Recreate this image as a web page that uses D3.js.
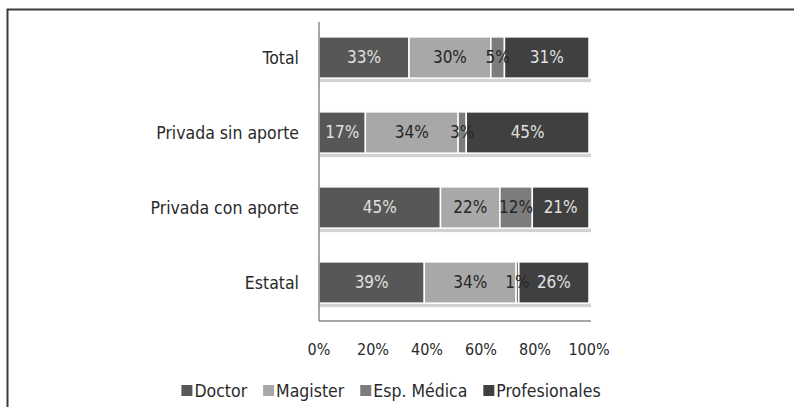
<!DOCTYPE html>
<html>
<head>
<meta charset="utf-8">
<script src="https://cdn.jsdelivr.net/npm/d3@7"></script>
<style>
  body { margin: 0; background: #fff; }
  svg { display: block; }
  text { font-family: "DejaVu Sans Condensed", "Liberation Sans Narrow", sans-serif; }
</style>
</head>
<body>
<div id="chart"></div>
<script>
const categories = ['Total', 'Privada sin aporte', 'Privada con aporte', 'Estatal'];
const seriesNames = ['Doctor', 'Magister', 'Esp. Médica', 'Profesionales'];
const doctor = [33, 17, 45, 39];
const magister = [30, 34, 22, 34];
const espMedica = [5, 3, 12, 1];
const profesionales = [31, 45, 21, 26];
const tickLabels = ['0%', '20%', '40%', '60%', '80%', '100%'];

const colors = ['#575757', '#a8a8a8', '#7c7c7c', '#404040'];
const labelColors = ['#e0e0e0', '#262626', '#262626', '#e0e0e0'];

const W = 794, H = 407;
const svg = d3.select('#chart').append('svg').attr('width', W).attr('height', H);

// frame
svg.append('path').attr('d', `M7.5,${H} V9.5 H${W}`).attr('fill', 'none')
  .attr('stroke', '#3a3a3a').attr('stroke-width', 2);

const x = d3.scaleLinear().domain([0, 1]).range([319, 589]);
const y = d3.scaleBand().domain(categories).range([20, 320]).paddingInner(0.45).paddingOuter(0.225);

// rows: each segment normalised to the row total (100% stacked)
const series = [doctor, magister, espMedica, profesionales];
const rows = categories.map((c, i) => {
  const vals = series.map(s => s[i]);
  const total = d3.sum(vals);
  let acc = 0;
  return vals.map((v, k) => {
    const seg = { cat: c, k, v, x0: acc / total, x1: (acc + v) / total };
    acc += v;
    return seg;
  });
});

// shadow strip under each bar
svg.selectAll('.shadow').data(categories).enter().append('rect')
  .attr('x', x(0)).attr('width', x(1) - x(0) + 2)
  .attr('y', d => y(d) + y.bandwidth()).attr('height', 4)
  .attr('fill', '#d2d2d2');

const g = svg.selectAll('.row').data(rows).enter().append('g');
g.selectAll('rect').data(d => d).enter().append('rect')
  .attr('x', d => x(d.x0)).attr('width', d => x(d.x1) - x(d.x0))
  .attr('y', d => y(d.cat)).attr('height', y.bandwidth())
  .attr('fill', d => colors[d.k]).attr('stroke', '#fff').attr('stroke-width', 1.5);

g.selectAll('text').data(d => d).enter().append('text')
  .attr('x', d => x((d.x0 + d.x1) / 2)).attr('y', d => y(d.cat) + y.bandwidth() / 2)
  .attr('dy', '0.35em').attr('text-anchor', 'middle')
  .attr('font-size', 17).attr('fill', d => labelColors[d.k])
  .text(d => d.v + '%');

// axes
svg.append('line').attr('x1', x(0)).attr('x2', x(0)).attr('y1', 22).attr('y2', 321)
  .attr('stroke', '#8a8a8a').attr('stroke-width', 1.5);
svg.append('line').attr('x1', x(0)).attr('x2', x(1) + 2).attr('y1', 321).attr('y2', 321)
  .attr('stroke', '#8a8a8a').attr('stroke-width', 1.5);

svg.selectAll('.cat').data(categories).enter().append('text')
  .attr('x', 299).attr('y', d => y(d) + y.bandwidth() / 2).attr('dy', '0.35em')
  .attr('text-anchor', 'end').attr('font-size', 17.5).attr('fill', '#2a2a2a')
  .text(d => d);

const ticks = d3.range(0, 1.0001, 0.2);
svg.selectAll('.tick').data(ticks).enter().append('text')
  .attr('x', d => x(d)).attr('y', 349).attr('dy', '0.35em')
  .attr('text-anchor', 'middle').attr('font-size', 16).attr('fill', '#2a2a2a')
  .text((d, i) => tickLabels[i]);

// legend: laid out from measured text widths, centred under the plot
const lg = svg.selectAll('.lg').data(seriesNames).enter().append('g');
lg.append('rect').attr('x', 0).attr('y', -6).attr('width', 11).attr('height', 11)
  .attr('fill', (d, i) => colors[i]);
lg.append('text').attr('x', 13).attr('y', 0).attr('dy', '0.35em')
  .attr('font-size', 17.5).attr('fill', '#2a2a2a').text(d => d);
const widths = [];
lg.each(function() { widths.push(13 + d3.select(this).select('text').node().getComputedTextLength()); });
const gap = 16;
const totalW = d3.sum(widths) + gap * (widths.length - 1);
let cx = 391 - totalW / 2;
lg.attr('transform', (d, i) => {
  const t = `translate(${cx},391)`;
  cx += widths[i] + gap;
  return t;
});
</script>
</body>
</html>
